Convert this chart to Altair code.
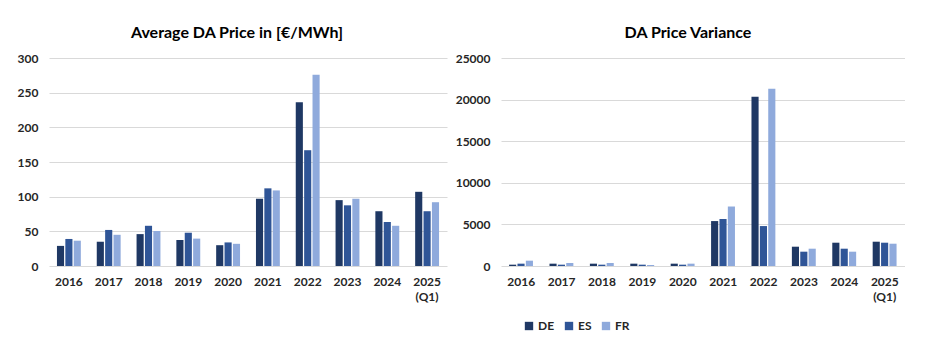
import altair as alt
import pandas as pd

years = ["2016", "2017", "2018", "2019", "2020", "2021", "2022", "2023", "2024", "2025 (Q1)"]
countries = ["DE", "ES", "FR"]
colors = ["#1F3864", "#2F5597", "#8FAADC"]

avg_de = [29, 35, 46, 37.5, 30, 97, 236, 95, 79, 107]
avg_es = [39, 52, 58, 48, 34, 112, 167, 87.5, 63.5, 79]
avg_fr = [36.5, 45, 50.5, 39.5, 32, 109, 276, 97, 58, 92]

var_de = [160, 280, 280, 280, 280, 5400, 20350, 2320, 2800, 2920]
var_es = [280, 160, 160, 160, 160, 5650, 4800, 1720, 2080, 2800]
var_fr = [640, 360, 360, 120, 280, 7150, 21300, 2080, 1720, 2680]


def long_df(de, es, fr):
    rows = []
    for i, y in enumerate(years):
        for c, vals in zip(countries, [de, es, fr]):
            rows.append({"year": y, "country": c, "value": vals[i]})
    return pd.DataFrame(rows)


FONT = "Lato"
LABEL_COLOR = "#262626"


def panel(df, title, ymax, yvals, extent, width, show_legend, title_dx):
    legend = None
    if show_legend:
        legend = alt.Legend(
            title=None, orient="none", direction="horizontal",
            legendX=22, legendY=262, symbolType="square", symbolSize=70,
            symbolStrokeWidth=0, labelFont=FONT, labelFontSize=12,
            labelFontWeight="bold", labelColor=LABEL_COLOR,
            columnPadding=8, labelOffset=3,
        )
    return alt.Chart(df).mark_bar().encode(
        x=alt.X(
            "year:N", sort=years, title=None,
            scale=alt.Scale(paddingInner=0.4, paddingOuter=0.2),
            axis=alt.Axis(
                labelAngle=0, labelExpr="split(datum.label, ' ')",
                domain=False, ticks=False, labelPadding=10,
                labelFont=FONT, labelFontSize=12, labelFontWeight="bold",
                labelColor=LABEL_COLOR, labelLineHeight=15,
            ),
        ),
        xOffset=alt.XOffset("country:N", sort=countries,
                            scale=alt.Scale(paddingInner=0.15)),
        y=alt.Y(
            "value:Q", title=None,
            scale=alt.Scale(domain=[0, ymax], nice=False),
            axis=alt.Axis(
                values=yvals, format="d", domain=False, ticks=False,
                labelPadding=11, gridColor="#D9D9D9", gridWidth=1,
                labelFont=FONT, labelFontSize=12, labelFontWeight="bold",
                labelColor=LABEL_COLOR, minExtent=extent, maxExtent=extent,
            ),
        ),
        color=alt.Color("country:N", sort=countries,
                        scale=alt.Scale(domain=countries, range=colors),
                        legend=legend),
    ).properties(
        width=width, height=208,
        title=alt.TitleParams(title, font=FONT, fontSize=16, fontWeight="bold",
                              color="#000000", anchor="middle", dx=title_dx,
                              offset=11),
    )


left = panel(long_df(avg_de, avg_es, avg_fr), "Average DA Price in [€/MWh]",
             300, [0, 50, 100, 150, 200, 250, 300], 41, 398, False, -11)
right = panel(long_df(var_de, var_es, var_fr), "DA Price Variance",
              25000, [0, 5000, 10000, 15000, 20000, 25000], 46, 404, True, -15)

chart = alt.hconcat(left, right, spacing=8).resolve_scale(
    color="independent"
).properties(
    padding={"left": 0, "top": 17, "right": 0, "bottom": 0}
).configure_view(stroke=None)

chart.save("out.html", embed_options={"renderer": "svg", "actions": False})
